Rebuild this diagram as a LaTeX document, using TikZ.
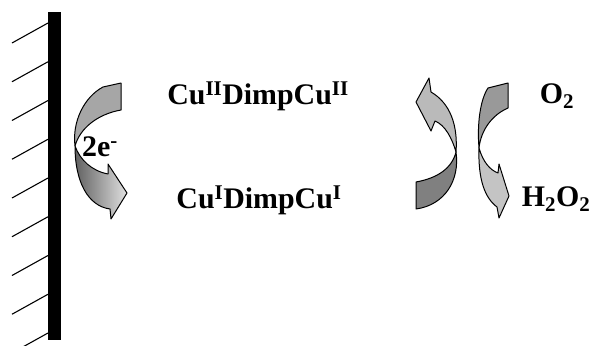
\documentclass[tikz,border=0pt]{standalone}
\usepackage{fontspec}
\setmainfont{Liberation Serif}

\begin{document}
\begin{tikzpicture}[
    x=1bp, y=-1bp,
    every node/.style={inner sep=0pt},
    chem/.style={font=\bfseries\fontsize{30}{32}\selectfont},
    rim/.style={draw=black, line width=1pt, line join=round}
]
\useasboundingbox (0,0) rectangle (594,345);

% ===== ELECTRODE =====
\fill[black] (48,12) rectangle (61,340);
\foreach \k in {0,...,8}
    \draw[line width=1.1pt] (12,{43+38.75*\k}) -- (48,{23+38.75*\k});

% ===== LEFT ARROW: electron transfer =====
% --- upper half (tail) ---
\fill[black!35, rim] (103,87) -- (121,83) -- (121,110)
    .. controls (98,114) and (80,128) .. (75,146)
    .. controls (72,122) and (84,97) .. (103,87) -- cycle;
% --- lower half (head, shaded) ---
\shadedraw[left color=black!62, right color=black!12, rim] (75,146)
    .. controls (80,160) and (92,171) .. (108,174) -- (108,164)
    -- (127,193) -- (111,219) -- (110,209)
    .. controls (88,206) and (75,182) .. (75,146) -- cycle;

% ===== MIDDLE ARROW: reoxidation =====
% --- upper half (head) ---
\fill[black!27, rim] (416,102) -- (429,78) -- (431,92)
    .. controls (450,103) and (458,125) .. (456,152)
    .. controls (452,138) and (445,125) .. (435,121)
    -- (431,131) -- cycle;
% --- lower half (tail) ---
\fill[black!50, rim] (416,182)
    .. controls (438,178) and (452,168) .. (456,152)
    .. controls (460,180) and (445,205) .. (416,209) -- cycle;

% ===== RIGHT ARROW: O2 to H2O2 =====
% --- upper half (tail) ---
\fill[black!40, rim] (488,88) -- (508,83) -- (508,108)
    .. controls (492,115) and (481,130) .. (479,148)
    .. controls (477,125) and (480,100) .. (488,88) -- cycle;
% --- lower half (head) ---
\fill[black!23, rim] (479,148)
    .. controls (483,162) and (490,170) .. (498,173) -- (499,164)
    -- (509,196) -- (499,218) -- (497,207)
    .. controls (485,198) and (478,180) .. (479,148) -- cycle;

% ===== LABELS =====
\node[chem] (cuII) at (258,96) {Cu\textsuperscript{II}DimpCu\textsuperscript{II}};
\node[chem] (cuI) at (259,200) {Cu\textsuperscript{I}DimpCu\textsuperscript{I}};
\node[chem] (elec) at (100,147) {2e\textsuperscript{-}};
\node[chem] (oxy) at (557,96) {O\textsubscript{2}};
\node[chem] (perox) at (556,199) {H\textsubscript{2}O\textsubscript{2}};

\end{tikzpicture}
\end{document}
